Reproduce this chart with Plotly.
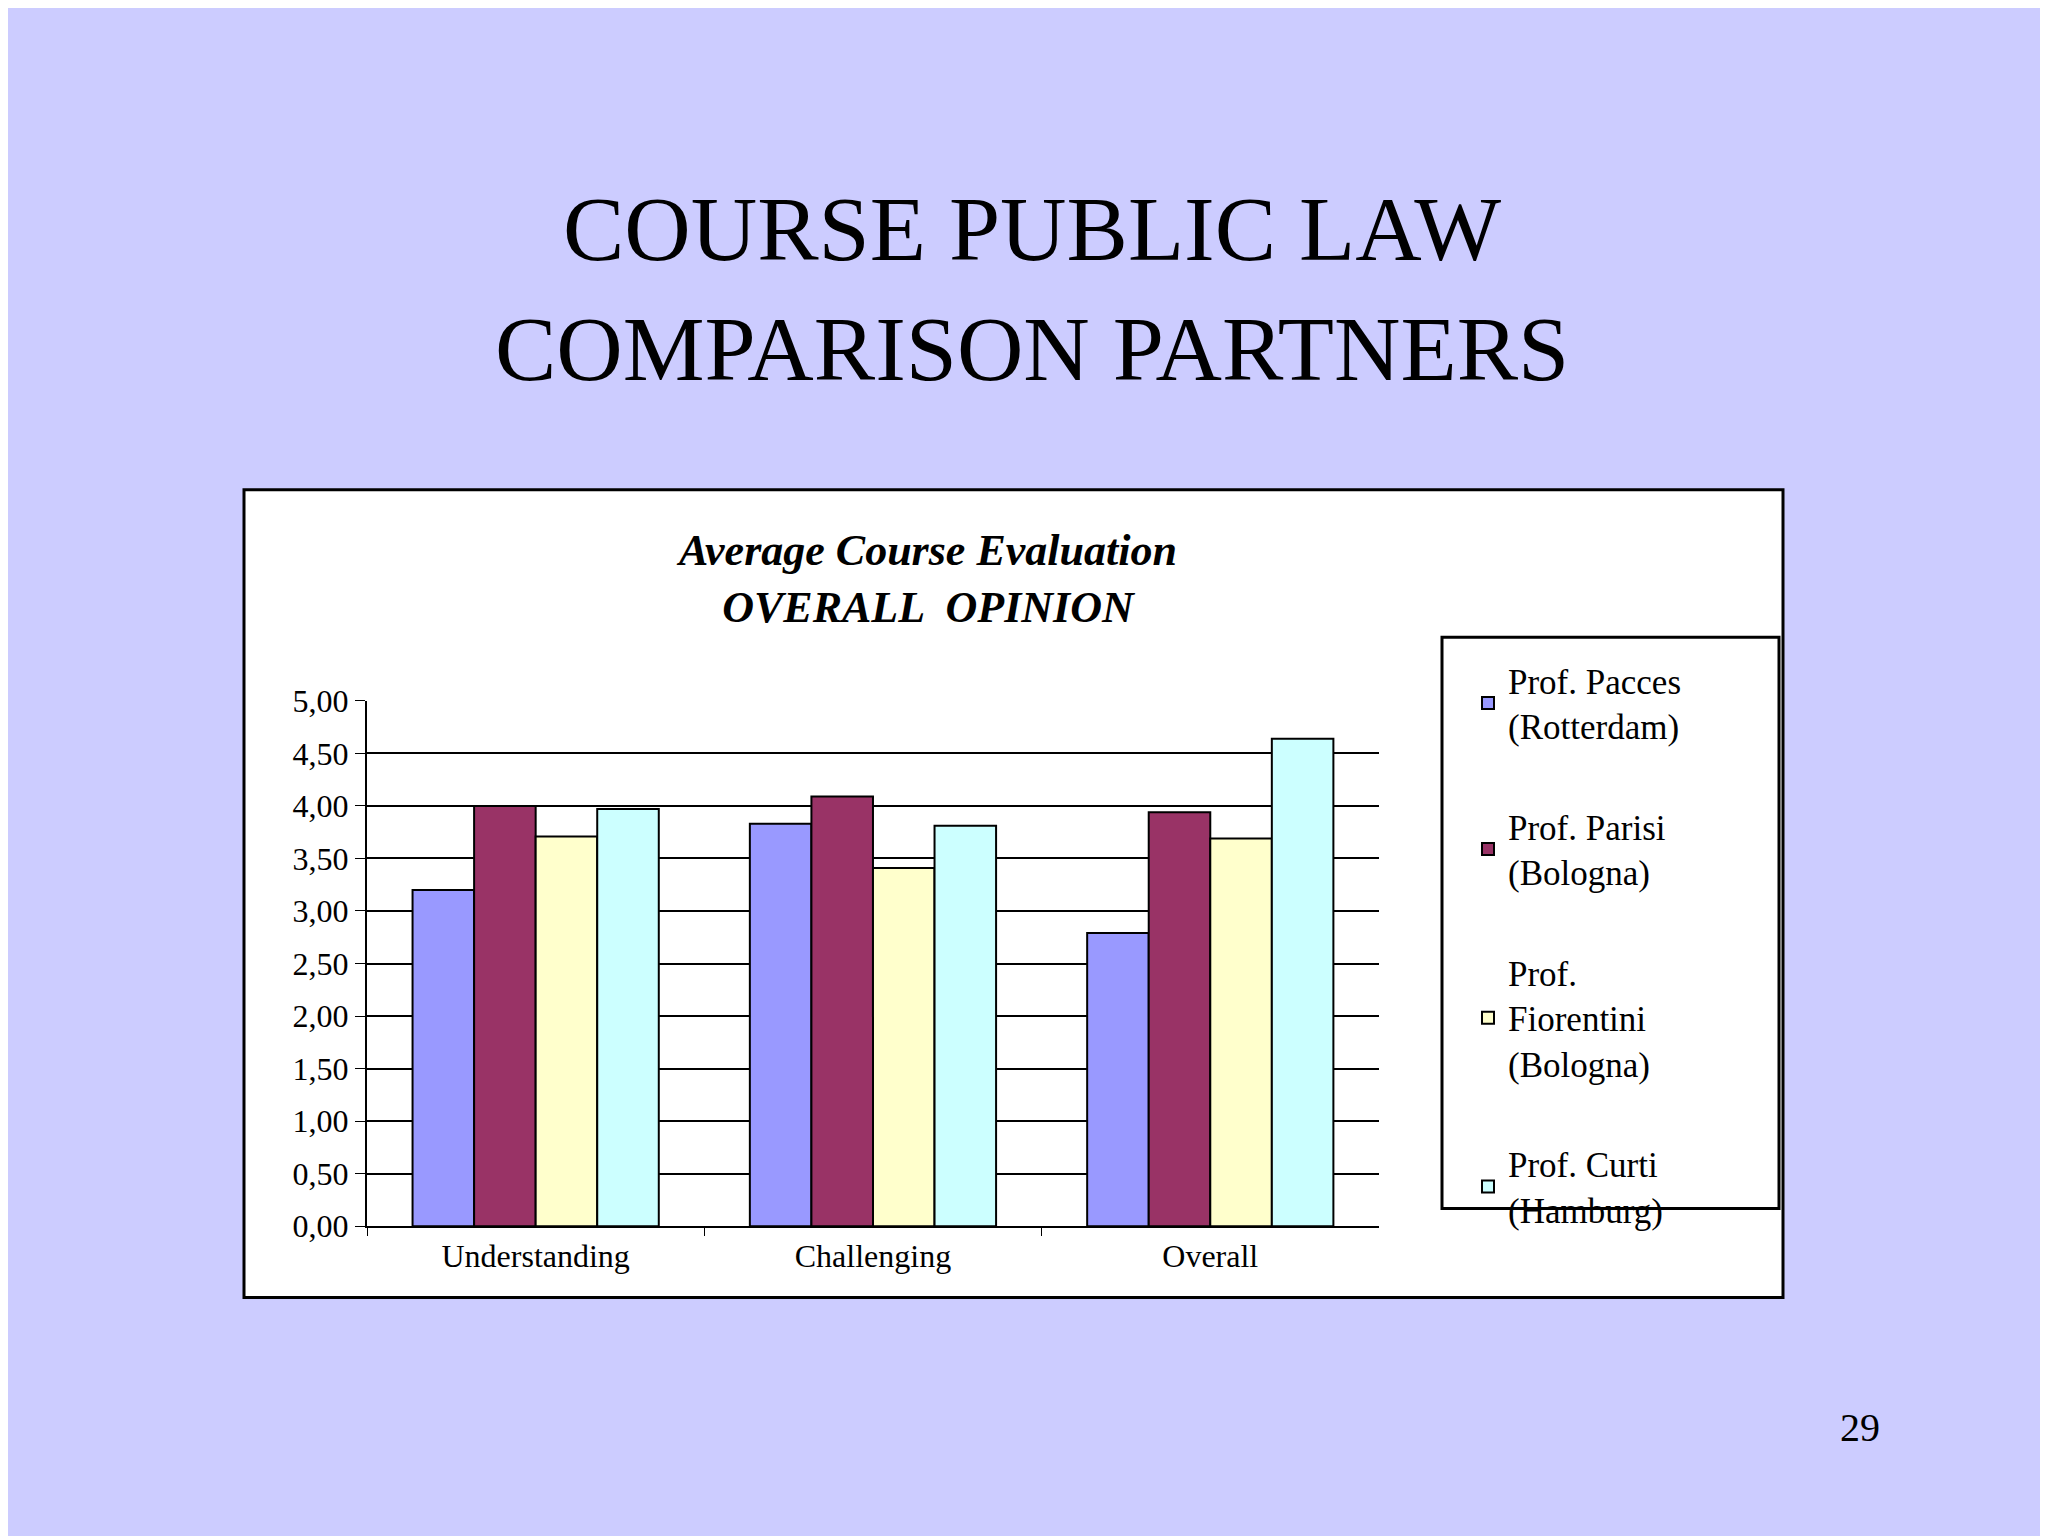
import plotly.graph_objects as go

categories = ["Understanding", "Challenging", "Overall"]
series_names = [
    "Prof. Pacces<br>(Rotterdam)",
    "Prof. Parisi<br>(Bologna)",
    "Prof.<br>Fiorentini<br>(Bologna)",
    "Prof. Curti<br>(Hamburg)",
]
pacces = [3.20, 3.83, 2.79]
parisi = [4.00, 4.09, 3.94]
fiorentini = [3.71, 3.41, 3.69]
curti = [3.97, 3.81, 4.64]
colors = ["#9999ff", "#993366", "#ffffcc", "#ccffff"]
y_ticks = [0, 0.5, 1, 1.5, 2, 2.5, 3, 3.5, 4, 4.5, 5]

FONT = "Liberation Serif"
W, H = 2048, 1536

fig = go.Figure()
for i, (name, vals, col) in enumerate(zip(series_names, [pacces, parisi, fiorentini, curti], colors)):
    fig.add_trace(go.Bar(
        x=categories, y=vals, name=name, legendgroup=f"g{i}",
        marker=dict(color=col, line=dict(color="black", width=2)),
    ))

fig.update_layout(
    width=W, height=H,
    margin=dict(l=0, r=0, t=0, b=0),
    paper_bgcolor="#ccccff",
    plot_bgcolor="#c0c0c0",
    separators=",.",
    barmode="group", bargap=0.27, bargroupgap=0,
    font=dict(family=FONT, color="black"),
    xaxis=dict(
        domain=[0.1753, 0.6694], showline=True, linecolor="black", linewidth=2,
        ticks="outside", tickson="boundaries", ticklen=8, tickcolor="black",
        tickfont=dict(size=32), showgrid=False,
    ),
    yaxis=dict(
        domain=[0.1999, 0.5501], range=[0, 5], tickvals=y_ticks, tickformat=".2f",
        showline=True, linecolor="black", linewidth=2, ticks="outside", ticklen=10,
        tickcolor="black", tickfont=dict(size=32), gridcolor="black", gridwidth=2,
        zeroline=False,
    ),
    legend=dict(
        x=1460 / W, y=1 - 640 / H, xanchor="left", yanchor="top",
        bgcolor="rgba(0,0,0,0)", borderwidth=0,
        font=dict(size=35), tracegroupgap=52, itemsizing="constant",
    ),
    shapes=[
        dict(type="rect", xref="paper", yref="paper", x0=236 / W, x1=1775 / W,
             y0=1 - 1302 / H, y1=1 - 475 / H, fillcolor="white",
             line=dict(color="black", width=3), layer="below"),
        dict(type="rect", xref="paper", yref="paper", x0=1434 / W, x1=1771 / W,
             y0=1 - 1211 / H, y1=1 - 626 / H, fillcolor="white",
             line=dict(color="black", width=3), layer="below"),
    ],
    annotations=[
        dict(text="COURSE PUBLIC LAW<br>COMPARISON PARTNERS", x=0.5, y=1 - 269 / H,
             xref="paper", yref="paper", xanchor="center", yanchor="middle",
             showarrow=False, font=dict(size=92, family=FONT)),
        dict(text="<b><i>Average Course Evaluation<br>OVERALL  OPINION</i></b>", x=0.4485,
             y=1 - 566 / H, xref="paper", yref="paper", xanchor="center", yanchor="middle",
             showarrow=False, font=dict(size=44, family=FONT)),
        dict(text="29", x=1852 / W, y=1 - 1435 / H, xref="paper", yref="paper",
             xanchor="center", yanchor="middle", showarrow=False,
             font=dict(size=40, family=FONT)),
    ],
)

fig.write_html("out.html")
